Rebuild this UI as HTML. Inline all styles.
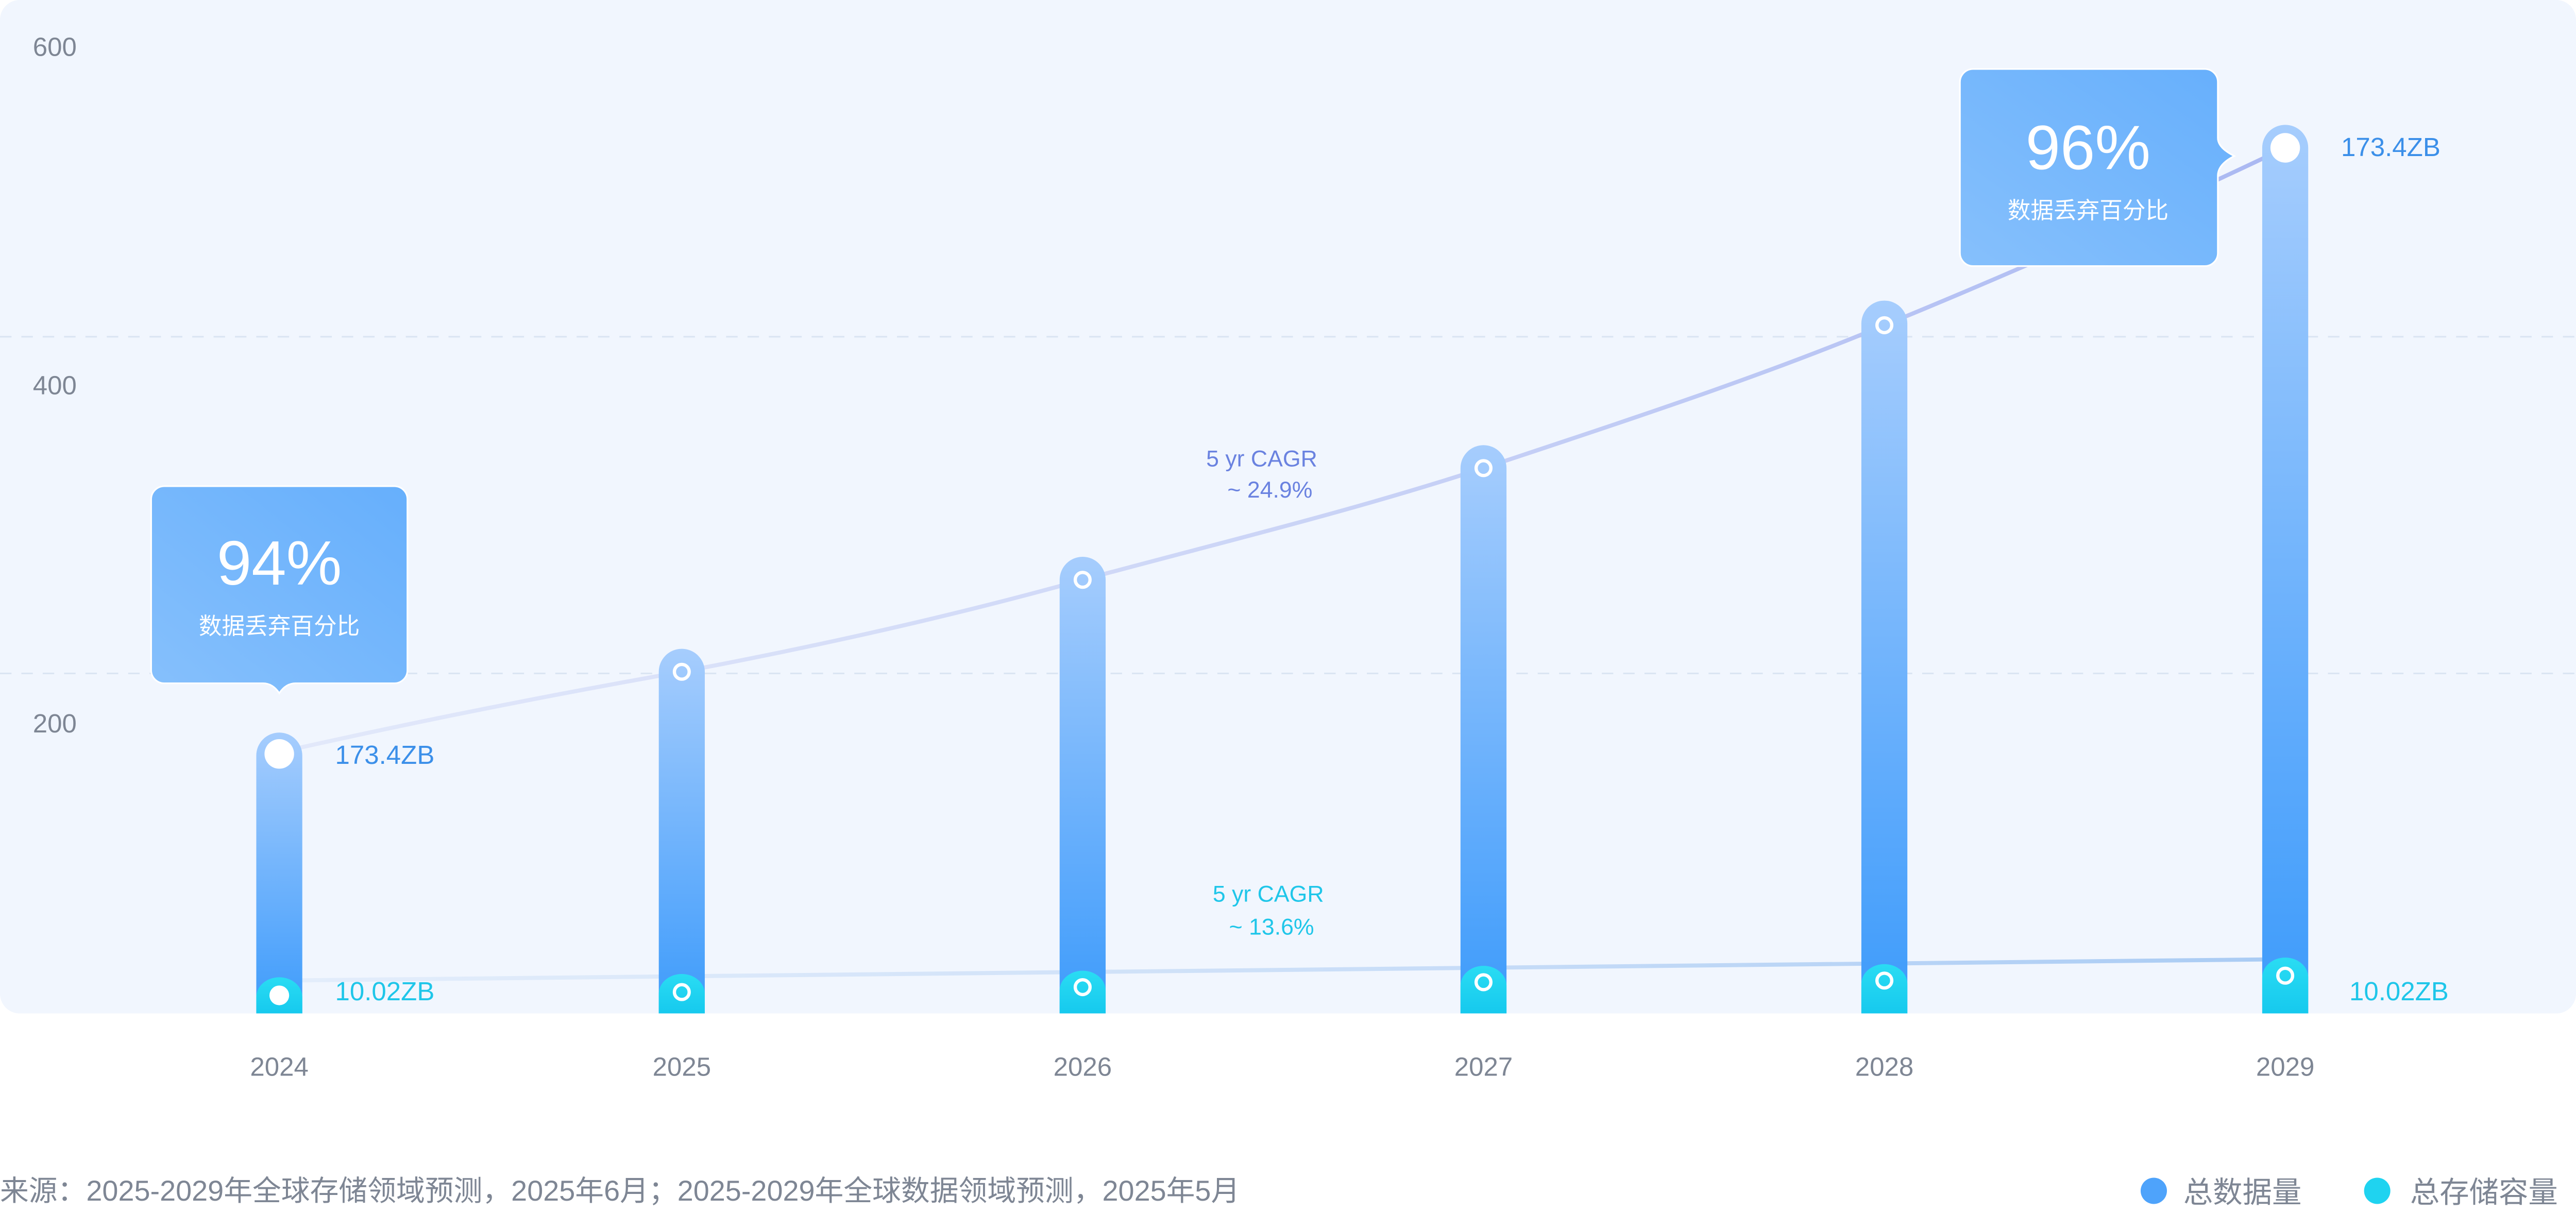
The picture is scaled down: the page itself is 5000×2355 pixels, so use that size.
<!DOCTYPE html>
<html><head><meta charset="utf-8"><style>
html,body{margin:0;padding:0;background:#fff;}
svg{display:block;}
text{font-family:"Liberation Sans","Noto Sans CJK SC",sans-serif;}
</style></head><body>
<svg width="5000" height="2355" viewBox="0 0 1568 738.5" preserveAspectRatio="none" xmlns="http://www.w3.org/2000/svg">
<defs>
<linearGradient id="bar" x1="0" y1="0" x2="0" y2="1">
<stop offset="0" stop-color="#a6cdfd"/><stop offset="1" stop-color="#3d9bfb"/></linearGradient>
<linearGradient id="cy" x1="0" y1="0" x2="0" y2="1">
<stop offset="0" stop-color="#2adcf3"/><stop offset="1" stop-color="#16c9ee"/></linearGradient>
<linearGradient id="tip" x1="0" y1="1" x2="1" y2="0">
<stop offset="0" stop-color="#86c0fc"/><stop offset="1" stop-color="#66affc"/></linearGradient>
<linearGradient id="ln" x1="0" y1="0" x2="1" y2="0">
<stop offset="0" stop-color="#c7d0f4" stop-opacity="0.35"/><stop offset="1" stop-color="#aab8f2"/></linearGradient>
<linearGradient id="ln2" x1="0" y1="0" x2="1" y2="0">
<stop offset="0" stop-color="#cfe0f7" stop-opacity="0.4"/><stop offset="1" stop-color="#a9cbf4"/></linearGradient>
</defs>
<rect x="0" y="0" width="1568" height="617" rx="12" fill="#f1f6fe"/>
<line x1="0" y1="205" x2="1568" y2="205" stroke="#dbe5f3" stroke-dasharray="7 6" stroke-width="1"/>
<line x1="0" y1="410" x2="1568" y2="410" stroke="#dbe5f3" stroke-dasharray="7 6" stroke-width="1"/>
<g font-size="16" fill="#7e8694">
<text x="20" y="34">600</text><text x="20" y="240">400</text><text x="20" y="446">200</text>
</g>
<path d="M170,458 C250,440 330,424 415,409 C500,393 580,375 659,353 C740,331 820,312 903,285 C990,256 1070,230 1147,198 C1230,164 1320,124 1391,90" fill="none" stroke="url(#ln)" stroke-width="2.5"/>
<line x1="170" y1="597" x2="1391" y2="584" stroke="url(#ln2)" stroke-width="2.5"/>
<g>
<path d="M156,617 V460 a14,14 0 0 1 28,0 V617Z" fill="url(#bar)"/>
<path d="M401,617 V409 a14,14 0 0 1 28,0 V617Z" fill="url(#bar)"/>
<path d="M645,617 V353 a14,14 0 0 1 28,0 V617Z" fill="url(#bar)"/>
<path d="M889,617 V285 a14,14 0 0 1 28,0 V617Z" fill="url(#bar)"/>
<path d="M1133,617 V197 a14,14 0 0 1 28,0 V617Z" fill="url(#bar)"/>
<path d="M1377,617 V90 a14,14 0 0 1 28,0 V617Z" fill="url(#bar)"/>
</g>
<g fill="url(#cy)">
<path d="M156,617 V607 a14,12 0 0 1 28,0 V617Z"/>
<path d="M401,617 V605 a14,12 0 0 1 28,0 V617Z"/>
<path d="M645,617 V603 a14,12 0 0 1 28,0 V617Z"/>
<path d="M889,617 V600 a14,12 0 0 1 28,0 V617Z"/>
<path d="M1133,617 V599 a14,12 0 0 1 28,0 V617Z"/>
<path d="M1377,617 V595 a14,12 0 0 1 28,0 V617Z"/>
</g>
<g fill="#fff">
<circle cx="170" cy="459" r="9"/><circle cx="1391" cy="90" r="9"/>
<circle cx="170" cy="606" r="6"/>
</g>
<g fill="none" stroke="#fff" stroke-width="2">
<circle cx="415" cy="409" r="4.5"/><circle cx="659" cy="353" r="4.5"/><circle cx="903" cy="285" r="4.5"/><circle cx="1147" cy="198" r="4.5"/>
<circle cx="415" cy="604" r="4.5"/><circle cx="659" cy="601" r="4.5"/><circle cx="903" cy="598" r="4.5"/><circle cx="1147" cy="597" r="4.5"/><circle cx="1391" cy="594" r="4.5"/>
</g>
<g font-size="16">
<text x="204" y="465" fill="#3b8fe9">173.4ZB</text>
<text x="204" y="609" fill="#1fc6e9">10.02ZB</text>
<text x="1425" y="95" fill="#3b8fe9">173.4ZB</text>
<text x="1430" y="609" fill="#1fc6e9">10.02ZB</text>
</g>
<g font-size="14" text-anchor="middle">
<text x="768" y="284" fill="#6a82e0">5 yr CAGR</text>
<text x="773" y="303" fill="#6a82e0">~ 24.9%</text>
<text x="772" y="549" fill="#1fc6e9">5 yr CAGR</text>
<text x="774" y="569" fill="#1fc6e9">~ 13.6%</text>
</g>
<path d="M100,296 H240 a8,8 0 0 1 8,8 V408 a8,8 0 0 1 -8,8 H180 q-6,0 -10,6 q-4,-6 -10,-6 H100 a8,8 0 0 1 -8,-8 V304 a8,8 0 0 1 8,-8Z" fill="url(#tip)" stroke="#fff" stroke-width="1"/>
<text x="170" y="356" font-size="38" fill="#fff" text-anchor="middle">94%</text>
<text x="170" y="386" font-size="14" fill="#fff" text-anchor="middle">数据丢弃百分比</text>
<path d="M1201,42 H1342 a8,8 0 0 1 8,8 V84 q0,6 10,11 q-10,5 -10,12 V154 a8,8 0 0 1 -8,8 H1201 a8,8 0 0 1 -8,-8 V50 a8,8 0 0 1 8,-8Z" fill="url(#tip)" stroke="#fff" stroke-width="1"/>
<text x="1271" y="103" font-size="38" fill="#fff" text-anchor="middle">96%</text>
<text x="1271" y="133" font-size="14" fill="#fff" text-anchor="middle">数据丢弃百分比</text>
<g font-size="16" fill="#7e8694" text-anchor="middle">
<text x="170" y="655">2024</text><text x="415" y="655">2025</text><text x="659" y="655">2026</text>
<text x="903" y="655">2027</text><text x="1147" y="655">2028</text><text x="1391" y="655">2029</text>
</g>
<text x="0" y="731" font-size="17.5" fill="#7e8694">来源：2025-2029年全球存储领域预测，2025年6月；2025-2029年全球数据领域预测，2025年5月</text>
<circle cx="1311" cy="725" r="8" fill="#4ea3fb"/>
<text x="1329" y="732" font-size="18" fill="#7e8694">总数据量</text>
<circle cx="1447" cy="725" r="8" fill="#1fd3f0"/>
<text x="1467" y="732" font-size="18" fill="#7e8694">总存储容量</text>
</svg>
</body></html>
